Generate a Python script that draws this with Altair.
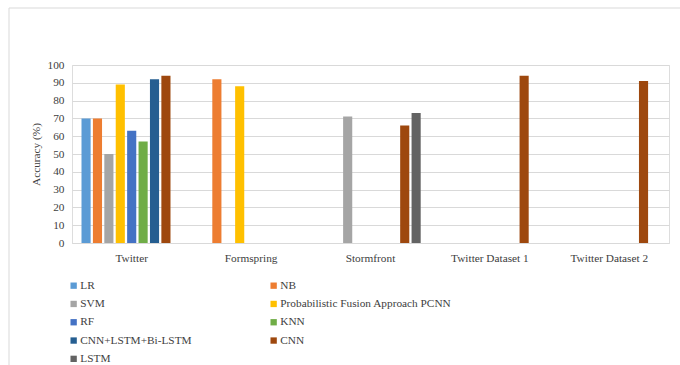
import altair as alt
import pandas as pd

datasets = ["Twitter", "Formspring", "Stormfront", "Twitter Dataset 1", "Twitter Dataset 2"]
methods = ["LR", "NB", "SVM", "Probabilistic Fusion Approach PCNN", "RF", "KNN",
           "CNN+LSTM+Bi-LSTM", "CNN", "LSTM"]
colors = ["#5B9BD5", "#ED7D31", "#A5A5A5", "#FFC000", "#4472C4", "#70AD47",
          "#255E91", "#9E480E", "#636363"]

twitter = [70, 70, 50, 89, 63, 57, 92, 94, None]
formspring = [None, 92, None, 88, None, None, None, None, None]
stormfront = [None, None, 71, None, None, None, None, 66, 73]
twitter_ds1 = [None, None, None, None, None, None, None, 94, None]
twitter_ds2 = [None, None, None, None, None, None, None, 91, None]

rows = []
for ds, vals in zip(datasets, [twitter, formspring, stormfront, twitter_ds1, twitter_ds2]):
    for m, v in zip(methods, vals):
        if v is not None:
            rows.append({"Dataset": ds, "Method": m, "Accuracy": v})
df = pd.DataFrame(rows)

FONT = "Liberation Serif"
FS = 11.3

bars = alt.Chart(df).mark_bar().encode(
    x=alt.X("Dataset:N", sort=datasets,
            scale=alt.Scale(domain=datasets, paddingInner=0.14, paddingOuter=0.07),
            axis=alt.Axis(title=None, labelAngle=0, ticks=False, domain=True,
                          domainColor="#d9d9d9", labelPadding=9)),
    xOffset=alt.XOffset("Method:N", sort=methods,
                        scale=alt.Scale(domain=methods, paddingInner=0.2, paddingOuter=0.1)),
    y=alt.Y("Accuracy:Q", scale=alt.Scale(domain=[0, 100], nice=False),
            axis=alt.Axis(title="Accuracy  (%)", values=list(range(0, 101, 10)),
                          ticks=False, domain=False, gridColor="#d9d9d9",
                          labelPadding=8, titlePadding=6)),
    color=alt.Color("Method:N", sort=methods,
                    scale=alt.Scale(domain=methods, range=colors),
                    legend=alt.Legend(title=None, orient="none", legendX=-4, legendY=215,
                                      columns=2, direction="horizontal",
                                      gridAlign="each",
                                      symbolType="square", symbolSize=40,
                                      symbolStrokeWidth=0, symbolOffset=0,
                                      labelOffset=1,
                                      rowPadding=6.3, columnPadding=76,
                                      labelLimit=300)),
)

border = alt.Chart(pd.DataFrame({"a": [0]})).mark_rect(
    fill=None, stroke="#d9d9d9", strokeWidth=1
).encode(x=alt.value(-63), x2=alt.value(700), y=alt.value(-57), y2=alt.value(400))

chart = alt.layer(border, bars).properties(
    width=597, height=178,
    autosize=alt.AutoSizeParams(type="none"),
    padding={"left": 72, "top": 65, "right": 11, "bottom": 122},
).configure_view(stroke=None).configure(
    background="white", font=FONT
).configure_axis(
    labelFont=FONT, labelFontSize=FS, labelColor="#404040",
    titleFont=FONT, titleFontSize=FS, titleFontWeight="normal", titleColor="#404040",
).configure_legend(
    labelFont=FONT, labelFontSize=FS, labelColor="#404040",
)

chart.save("out.html", embed_options={"renderer": "svg", "actions": False})
